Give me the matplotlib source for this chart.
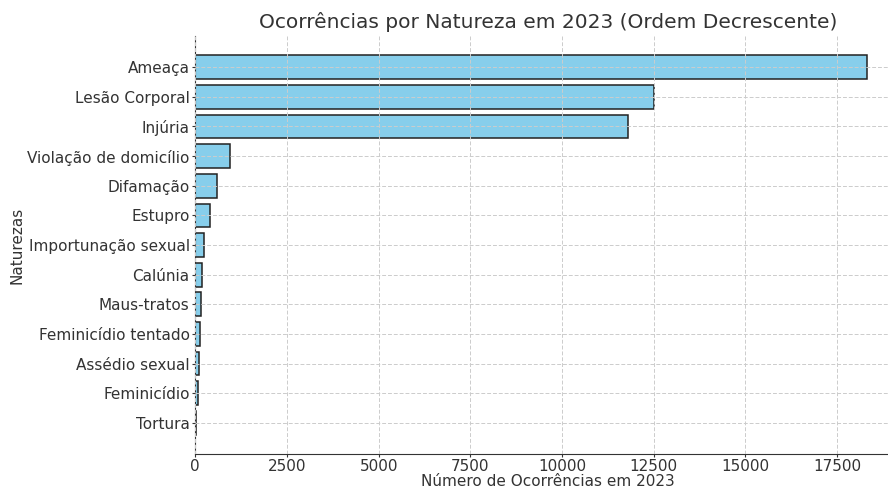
import matplotlib
matplotlib.use("Agg")
import matplotlib.pyplot as plt

naturezas = ["Ameaça", "Lesão Corporal", "Injúria", "Violação de domicílio",
             "Difamação", "Estupro", "Importunação sexual", "Calúnia",
             "Maus-tratos", "Feminicídio tentado", "Assédio sexual",
             "Feminicídio", "Tortura"]
ocorrencias = [18310, 12500, 11790, 950, 590, 395, 245, 185, 160, 125, 100, 70, 30]

txt = "#333333"
plt.rcParams["text.color"] = txt
plt.rcParams["axes.labelcolor"] = txt
plt.rcParams["xtick.color"] = txt
plt.rcParams["ytick.color"] = txt

fig = plt.figure(figsize=(8.88, 4.91), dpi=100)
ax = fig.add_axes([0.2199, 0.076, 0.794, 0.850])

ax.barh(naturezas, ocorrencias, color="skyblue", edgecolor="#222222", linewidth=1.1, height=0.8)
ax.invert_yaxis()
ax.grid(True, linestyle=(0, (4, 2)), color="#cccccc", linewidth=0.7)
ax.set_axisbelow(False)
ax.spines["top"].set_visible(False)
ax.spines["right"].set_visible(False)
ax.spines["left"].set_color(txt)
ax.spines["bottom"].set_color(txt)

ax.set_title("Ocorrências por Natureza em 2023 (Ordem Decrescente)", fontsize=14.5, pad=6)
ax.set_xlabel("Número de Ocorrências em 2023", fontsize=11, labelpad=0)
ax.set_ylabel("Naturezas", fontsize=11, labelpad=2)
ax.tick_params(labelsize=11, length=2, pad=2)

fig.savefig("out.png", dpi=100)
